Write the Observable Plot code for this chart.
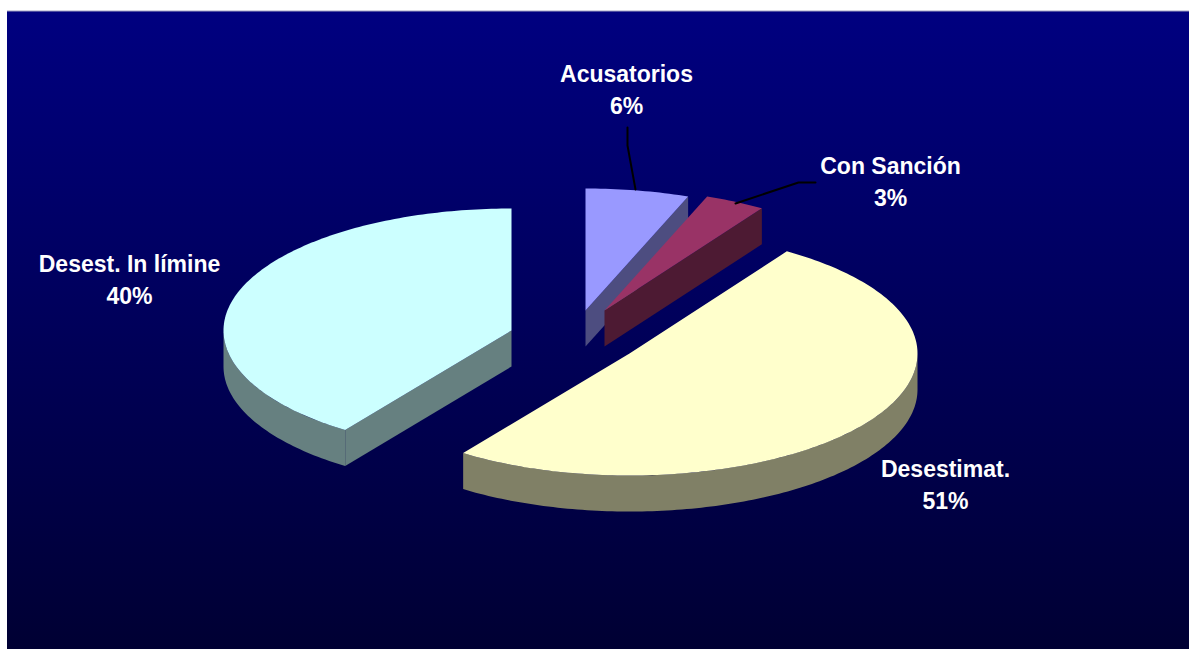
<!DOCTYPE html>
<html>
<head>
<meta charset="utf-8">
<script src="https://cdn.jsdelivr.net/npm/d3@7"></script>
<script src="https://cdn.jsdelivr.net/npm/@observablehq/plot@0.6"></script>
<style>
  html, body { margin: 0; padding: 0; background: #fff; overflow: hidden; }
  svg { display: block; }
</style>
</head>
<body>
<div id="chart"></div>
<script>
// Data (slice sizes estimated from the drawn angles; labels show them rounded)
const categories = ["Acusatorios", "Con Sanción", "Desestimat.", "Desest. In límine"];
const percents = [5.8, 3.4, 50.6, 40.2];

// Styles
const topColors = ["#9999FF", "#993366", "#FFFFCC", "#CCFFFF"];
const sideColors = ["#4D4D80", "#4D1A33", "#808066", "#668080"];

// Layout of the tilted, exploded pie
const W = 1189, H = 649;
const RX = 288, RY = 122, DEPTH = 36;
const centerX = [585, 604, 629, 511];
const centerY = [310, 310, 353, 330];
const labelX = [626, 890, 945, 129];
const labelY = [87, 179, 482, 277];
const leaders = [
  [[627, 127], [627, 145], [635, 189]],
  [[735, 203], [798, 182], [815, 182]]
];

const arcs = d3.pie().sort(null)(percents);
const toPoint = (i, a, drop = 0) => ({
  x: centerX[i] + RX * Math.sin(a),
  y: centerY[i] - RY * Math.cos(a) + drop
});
const arcPoints = (i, a0, a1, drop = 0) => {
  const n = Math.max(2, Math.ceil((a1 - a0) / (Math.PI / 180)));
  return d3.range(n + 1).map(k => toPoint(i, a0 + (a1 - a0) * k / n, drop));
};

const tops = [], sides = [];
let shapeId = 0;
const addShape = (target, i, pts) => {
  const id = shapeId++;
  pts.forEach(p => target.push({...p, id, fill: i}));
};

arcs.forEach((arc, i) => {
  const {startAngle: a0, endAngle: a1} = arc;
  const apex = {x: centerX[i], y: centerY[i]};
  // Cut faces that look toward the viewer
  [[a0, Math.sin(a0) < -1e-6], [a1, Math.sin(a1) > 1e-6]].forEach(([a, visible]) => {
    if (!visible) return;
    const rim = toPoint(i, a);
    addShape(sides, i, [apex, rim, toPoint(i, a, DEPTH), {x: apex.x, y: apex.y + DEPTH}]);
  });
  // Rim wall on the front half of the ellipse
  const w0 = Math.max(a0, Math.PI / 2), w1 = Math.min(a1, 3 * Math.PI / 2);
  if (w1 > w0) {
    addShape(sides, i, [...arcPoints(i, w0, w1), ...arcPoints(i, w0, w1, DEPTH).reverse()]);
  }
  // Top surface
  addShape(tops, i, [apex, ...arcPoints(i, a0, a1)]);
});

const labels = categories.map((c, i) => ({
  text: `${c}\n${Math.round(percents[i])}%`, x: labelX[i], y: labelY[i]
}));
const leaderRows = leaders.flatMap((pts, id) => pts.map(([x, y]) => ({x, y, id})));

const gradientDefs = () => {
  const defs = d3.create("svg:defs");
  const g = defs.append("linearGradient")
    .attr("id", "bg").attr("x1", 0).attr("y1", 0).attr("x2", 0).attr("y2", 1);
  g.append("stop").attr("offset", "0%").attr("stop-color", "#000080");
  g.append("stop").attr("offset", "100%").attr("stop-color", "#000033");
  return defs.node();
};

const shapeMark = (rows, colors) => Plot.line(rows, {
  x: "x", y: "y", z: "id",
  curve: "linear-closed",
  fill: d => colors[d.fill],
  stroke: "none"
});

const chart = Plot.plot({
  width: W, height: H,
  margin: 0,
  x: {domain: [0, W], range: [0, W], axis: null},
  y: {domain: [0, H], range: [0, H], axis: null},
  style: {background: "#fff"},
  marks: [
    gradientDefs,
    Plot.rect([{x1: 7, x2: W, y1: 11, y2: H}], {
      x1: "x1", x2: "x2", y1: "y1", y2: "y2", fill: "url(#bg)"
    }),
    Plot.ruleY([10.5], {x1: 7, x2: W, stroke: "#A0A0C0", strokeWidth: 1}),
    shapeMark(sides, sideColors),
    shapeMark(tops, topColors),
    Plot.line(leaderRows, {x: "x", y: "y", z: "id", stroke: "#000", strokeWidth: 2}),
    Plot.text(labels, {
      x: "x", y: "y", text: "text",
      fill: "#fff", stroke: "none",
      fontFamily: "'Liberation Sans', Arial, sans-serif",
      fontWeight: "bold", fontSize: 23,
      lineHeight: 1.39, textAnchor: "middle"
    })
  ]
});
document.getElementById("chart").append(chart);
</script>
</body>
</html>
